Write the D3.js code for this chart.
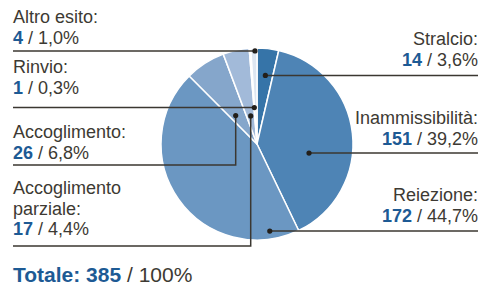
<!DOCTYPE html>
<html>
<head>
<meta charset="utf-8">
<script src="https://cdn.jsdelivr.net/npm/d3@7"></script>
<style>
  html, body { margin: 0; padding: 0; background: #fff; }
  svg { display: block; }
</style>
</head>
<body>
<svg id="chart"></svg>
<script>
// esiti, in ordine orario a partire da ore 12
const categories = ["Stralcio", "Inammissibilità", "Reiezione", "Accoglimento", "Accoglimento parziale", "Rinvio", "Altro esito"];
const counts = [14, 151, 172, 26, 17, 1, 4];
const percents = ["3,6%", "39,2%", "44,7%", "6,8%", "4,4%", "0,3%", "1,0%"];
const labelLines = [["Stralcio:"], ["Inammissibilità:"], ["Reiezione:"], ["Accoglimento:"], ["Accoglimento", "parziale:"], ["Rinvio:"], ["Altro esito:"]];
const total = 385;
const totalPercent = "100%";

const colors = ["#3674a8", "#4e84b5", "#6b97c2", "#85a6cb", "#a2bad9", "#c9d8ea", "#dde6f1"];

const width = 481, height = 286;
const cx = 257, cy = 144, R = 96;

// where each leader line touches its slice: fraction across the slice, fraction of radius
const anchorFrac = [0.53, 0.615, 0.108, 0.33, 0.5, 0.5, 0.67];
const anchorRad = [0.72, 0.55, 0.917, 0.37, 0.30, 0.38, 0.97];
// label placement: side, baseline of first line, elbow rule y (null = straight)
const side = ["right", "right", "right", "left", "left", "left", "left"];
const firstBase = [45, 124, 201, 138, 194, 73, 23];
const elbowY = [null, null, null, 165, 246, null, null];
const lineH = 20.5;

const svg = d3.select("#chart")
    .attr("width", width)
    .attr("height", height)
    .attr("font-family", "'Liberation Sans', Arial, Helvetica, sans-serif");

const pie = d3.pie().sort(null).value(d => d)(counts);
const arc = d3.arc().innerRadius(0).outerRadius(R);

const g = svg.append("g").attr("transform", `translate(${cx},${cy})`);

g.selectAll("path")
  .data(pie)
  .join("path")
    .attr("d", arc)
    .attr("fill", (d, i) => colors[i])
    .attr("stroke", "#fff")
    .attr("stroke-width", 1.5)
    .attr("stroke-linejoin", "round");

// anchor points in page coordinates
const anchors = pie.map((d, i) => {
  const a = d.startAngle + anchorFrac[i] * (d.endAngle - d.startAngle);
  const r = anchorRad[i] * R;
  return [cx + r * Math.sin(a), cy - r * Math.cos(a)];
});

const leftX = 13, rightX = 478;
const lineColor = "#3b3731";

const leaders = svg.append("g")
    .attr("fill", "none")
    .attr("stroke", lineColor)
    .attr("stroke-width", 1.5);

anchors.forEach(([ax, ay], i) => {
  let pts;
  if (side[i] === "right") {
    pts = [[ax, ay], [rightX, ay]];
  } else if (elbowY[i] != null) {
    pts = [[leftX, elbowY[i]], [ax, elbowY[i]], [ax, ay]];
  } else {
    pts = [[leftX, ay], [ax, ay]];
  }
  leaders.append("path").attr("d", d3.line()(pts));
});

svg.append("g")
  .selectAll("circle")
  .data(anchors)
  .join("circle")
    .attr("cx", d => d[0])
    .attr("cy", d => d[1])
    .attr("r", 2.6)
    .attr("fill", "#231f1a");

// labels
const textColor = "#3d3a33";
const numColor = "#1d5a94";
const fontSize = 18;

categories.forEach((c, i) => {
  const right = side[i] === "right";
  const x = right ? rightX : leftX;
  const lab = svg.append("text")
      .attr("x", x)
      .attr("text-anchor", right ? "end" : "start")
      .attr("font-size", fontSize)
      .attr("fill", textColor);
  labelLines[i].forEach((ln, k) => {
    lab.append("tspan").attr("x", x).attr("y", firstBase[i] + k * lineH).text(ln);
  });
  const v = lab.append("tspan").attr("x", x).attr("y", firstBase[i] + labelLines[i].length * lineH);
  v.append("tspan").attr("font-weight", "bold").attr("fill", numColor).text(counts[i]);
  v.append("tspan").text(" / " + percents[i]);
});

const tot = svg.append("text")
    .attr("x", leftX)
    .attr("y", 282)
    .attr("font-size", 21)
    .attr("fill", textColor);
tot.append("tspan").attr("font-weight", "bold").attr("fill", numColor).text("Totale: " + total);
tot.append("tspan").text(" / " + totalPercent);
</script>
</body>
</html>
